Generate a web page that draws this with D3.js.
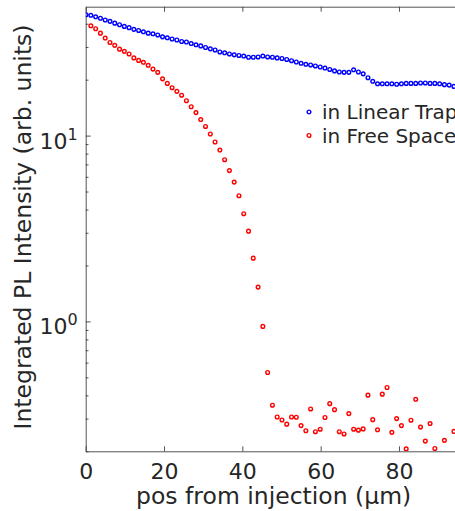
<!DOCTYPE html>
<meta charset="utf-8">
<title>PL vs position</title>
<script src="https://cdn.jsdelivr.net/npm/d3@7"></script>
<style>
body { margin: 0; background: #fff; overflow: hidden; }
text { font-family: "DejaVu Sans", sans-serif; fill: #262626; }
.axis path, .axis line { stroke: #404040; stroke-width: 0.9px; }
.dot { fill: none; stroke-width: 1.4px; }
</style>
<body>
<script>

// sample positions along the channel (um)
var pos = [0.1, 1.32, 2.54, 3.76, 4.98, 6.2, 7.42, 8.64, 9.86, 11.08,
  12.3, 13.52, 14.74, 15.96, 17.18, 18.4, 19.62, 20.84, 22.06, 23.28,
  24.5, 25.72, 26.94, 28.16, 29.38, 30.6, 31.82, 33.04, 34.26, 35.48,
  36.7, 37.92, 39.14, 40.36, 41.58, 42.8, 44.02, 45.24, 46.46, 47.68,
  48.9, 50.12, 51.34, 52.56, 53.78, 55.0, 56.22, 57.44, 58.66, 59.88,
  61.1, 62.32, 63.54, 64.76, 65.98, 67.2, 68.42, 69.64, 70.86, 72.08,
  73.3, 74.52, 75.74, 76.96, 78.18, 79.4, 80.62, 81.84, 83.06, 84.28,
  85.5, 86.72, 87.94, 89.16, 90.38, 91.6, 92.82, 94.04];

var trapPL = [44.7, 44.4, 43.6, 42.8, 41.9, 41.2, 40.3, 39.5, 38.7, 38.1,
  37.3, 36.8, 36.2, 35.6, 35.3, 34.8, 34.0, 33.6, 33.1, 32.7,
  32.1, 31.9, 31.3, 30.8, 30.4, 29.8, 29.3, 28.9, 28.2, 27.9,
  27.5, 27.2, 27.0, 26.8, 26.4, 26.4, 26.5, 26.8, 26.5, 26.4,
  26.2, 26.0, 25.7, 25.3, 24.9, 24.5, 24.2, 24.0, 23.7, 23.4,
  23.1, 22.7, 22.3, 22.0, 21.9, 21.9, 22.6, 22.0, 21.5, 20.5,
  19.6, 19.0, 19.0, 19.0, 19.0, 18.9, 19.0, 19.1, 19.1, 19.1,
  19.2, 19.2, 19.1, 19.1, 19.0, 18.8, 18.7, 18.4];

var freePL = [null, 39.0, 37.6, 35.6, 33.5, 31.7, 30.6, 29.2, 28.4, 27.5,
  26.2, 25.4, 24.8, 23.9, 22.8, 21.9, 20.2, 19.1, 18.1, 17.3,
  16.5, 15.4, 14.3, 13.3, 12.2, 11.2, 10.2, 9.24, 8.36, 7.42,
  6.48, 5.62, 4.75, 3.80, 3.06, 2.19, 1.53, 0.94, 0.531, 0.354,
  0.306, 0.295, 0.280, 0.306, 0.305, 0.275, 0.258, 0.338, 0.255, 0.263,
  0.304, 0.361, 0.335, 0.255, 0.248, 0.319, 0.263, 0.260, 0.264, 0.401,
  0.296, 0.261, 0.406, 0.441, 0.253, 0.300, 0.275, 0.206, 0.294, 0.381,
  0.270, 0.227, 0.282, 0.207, null, 0.229, null, 0.256];

var seriesNames = ["in Linear Trap", "in Free Space"];
var seriesColors = ["#0000ff", "#ff0000"];

var xTicks = [0, 20, 40, 60, 80, 100];
var xLabels = [0, 20, 40, 60, 80];
var yMajor = [1, 10];
var yMinor = [0.2, 0.3, 0.4, 0.5, 0.6, 0.7, 0.8, 0.9, 2, 3, 4, 5, 6, 7, 8, 9, 20, 30, 40];

var W = 455, H = 511;
var margin = {top: 6.7, left: 85.7};
var plotW = 391.6, plotH = 444.6;

var svg = d3.select("body").append("svg")
    .attr("width", W)
    .attr("height", H);

var x = d3.scaleLinear().domain([0, 100]).range([margin.left, margin.left + plotW]);
var y = d3.scaleLog().domain([0.2, 49.4]).range([margin.top + plotH, margin.top]);

svg.append("defs").append("clipPath").attr("id", "clip")
  .append("rect")
    .attr("x", margin.left).attr("y", margin.top)
    .attr("width", plotW).attr("height", plotH);

// axes
var bottom = svg.append("g").attr("class", "axis")
    .attr("transform", "translate(0," + (margin.top + plotH) + ")")
    .call(d3.axisBottom(x).tickValues(xTicks).tickSize(-5).tickPadding(12).tickSizeOuter(0)
      .tickFormat(function(d) { return xLabels.indexOf(d) >= 0 ? d : ""; }));
bottom.selectAll("text").attr("font-size", "22px").attr("font-family", "DejaVu Sans").attr("fill", "#262626");

svg.append("g").attr("class", "axis")
    .attr("transform", "translate(0," + margin.top + ")")
    .call(d3.axisTop(x).tickValues(xTicks).tickSize(-5).tickFormat("").tickSizeOuter(0));

svg.append("g").attr("class", "axis")
    .attr("transform", "translate(" + margin.left + ",0)")
    .call(d3.axisLeft(y).tickValues(yMajor).tickSize(-5).tickFormat("").tickSizeOuter(0));

var minorAxis = svg.append("g").attr("class", "axis")
    .attr("transform", "translate(" + margin.left + ",0)")
    .call(d3.axisLeft(y).tickValues(yMinor).tickSize(-2.8).tickFormat("").tickSizeOuter(0));
minorAxis.select(".domain").remove();

// y tick labels as 10^n
yMajor.forEach(function(v) {
  var t = svg.append("text")
      .attr("x", margin.left - 8)
      .attr("y", y(v) + 13)
      .attr("text-anchor", "end")
      .attr("font-size", "22px");
  t.append("tspan").text("10");
  t.append("tspan").attr("dy", -9).attr("font-size", "16px").text(Math.round(Math.log10(v)));
});

// axis titles
svg.append("text")
    .attr("x", x(48))
    .attr("y", 504)
    .attr("text-anchor", "middle")
    .attr("font-size", "23.5px")
    .text("pos from injection (\u00b5m)");

svg.append("text")
    .attr("transform", "translate(31," + (margin.top + plotH / 2 - 2) + ") rotate(-90)")
    .attr("text-anchor", "middle")
    .attr("font-size", "23.5px")
    .text("Integrated PL Intensity (arb. units)");

// data
var plot = svg.append("g").attr("clip-path", "url(#clip)");

[trapPL, freePL].forEach(function(vals, k) {
  var pts = pos.map(function(p, i) { return {x: p, v: vals[i]}; })
      .filter(function(d) { return d.v != null; });
  plot.selectAll(".s" + k)
      .data(pts)
    .enter().append("circle")
      .attr("class", "dot s" + k)
      .attr("cx", function(d) { return x(d.x); })
      .attr("cy", function(d) { return y(d.v); })
      .attr("r", 1.85)
      .style("stroke", seriesColors[k]);
});

// legend
var legend = svg.append("g").attr("transform", "translate(309,112)");
seriesNames.forEach(function(name, k) {
  legend.append("circle")
      .attr("class", "dot")
      .attr("cx", 0).attr("cy", k * 23.5)
      .attr("r", 1.85)
      .style("stroke", seriesColors[k]);
  legend.append("text")
      .attr("x", 13).attr("y", k * 23.5 + 7)
      .attr("font-size", "20px")
      .attr("fill", "#000")
      .text(name);
});

</script>
</body>
</html>
